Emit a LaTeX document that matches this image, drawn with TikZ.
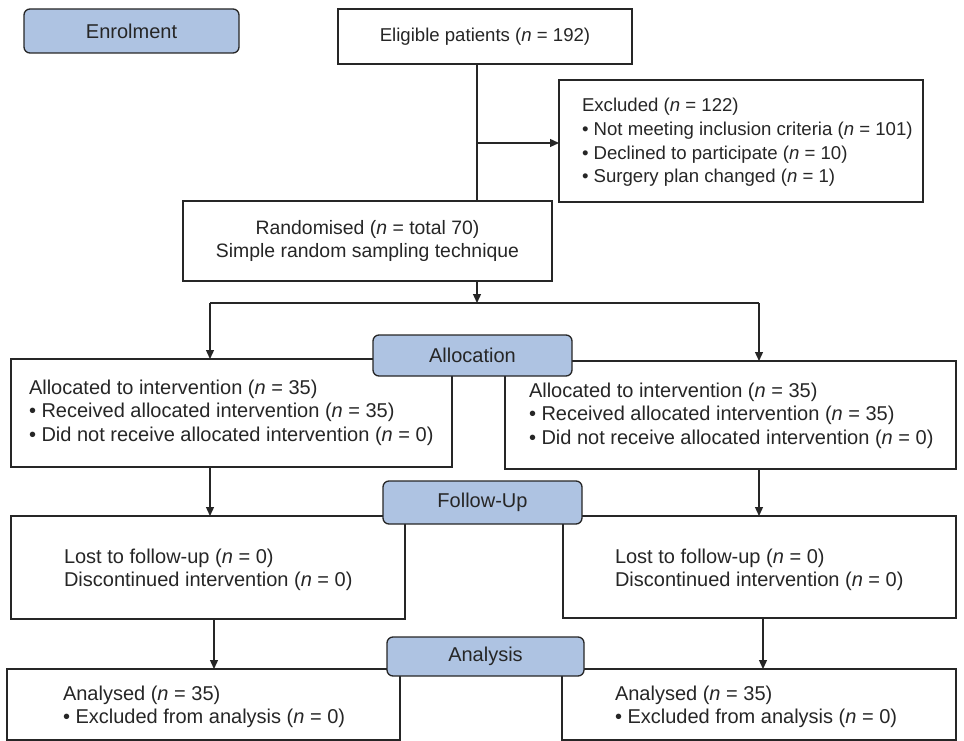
\documentclass[tikz,border=0pt]{standalone}
\usepackage{fontspec}
\setmainfont{Liberation Sans}
\usetikzlibrary{arrows.meta}
\definecolor{phase}{RGB}{174,195,226}
\definecolor{ink}{RGB}{38,38,38}
\begin{document}
\begin{tikzpicture}[x=1pt,y=-1pt,
  fA/.style={font=\fontsize{18.6}{23.8}\selectfont},
  fB/.style={font=\fontsize{19.4}{23.4}\selectfont},
  fC/.style={font=\fontsize{20}{23.8}\selectfont},
  box/.style={draw=ink, line width=1.3pt, rectangle, inner sep=0pt, outer sep=0pt, fill=white, align=center, text=ink},
  phasebox/.style={box, fill=phase, rounded corners=6pt, fC},
  txt/.style={inner sep=0pt, outer sep=0pt, align=left, anchor=base west, text=ink},
  conn/.style={draw=ink, line width=1.3pt},
  arr/.style={conn, -{Triangle[length=9pt,width=8pt]}}]
\useasboundingbox (0,0) rectangle (964,741);

% boxes
\node[box, fA, minimum width=294, minimum height=55] (elig) at (485,36.5) {Eligible patients (\textit{n} = 192)};
\node[box, minimum width=364, minimum height=122] (excl) at (741,141) {};
\node[box, fB, minimum width=369, minimum height=80] (rand) at (367.5,241) {Randomised (\textit{n} = total 70)\\Simple random sampling technique};
\node[box, minimum width=441, minimum height=108] (allocL) at (231.5,413) {};
\node[box, minimum width=451, minimum height=108] (allocR) at (730.5,415) {};
\node[box, minimum width=394, minimum height=103] (followL) at (208,567.5) {};
\node[box, minimum width=393, minimum height=102] (followR) at (759.5,567) {};
\node[box, minimum width=393, minimum height=71] (anaL) at (203.5,704.5) {};
\node[box, minimum width=394, minimum height=71] (anaR) at (759,704.5) {};

% texts (anchor = baseline of the last line)
\node[txt, fA] (excltxt) at (582,182.9) {Excluded (\textit{n} = 122)\\• Not meeting inclusion criteria (\textit{n} = 101)\\• Declined to participate (\textit{n} = 10)\\• Surgery plan changed (\textit{n} = 1)};
\node[txt, fC] (allocLtxt) at (29,441.6) {Allocated to intervention (\textit{n} = 35)\\• Received allocated intervention (\textit{n} = 35)\\• Did not receive allocated intervention (\textit{n} = 0)};
\node[txt, fC] (allocRtxt) at (529,444.6) {Allocated to intervention (\textit{n} = 35)\\• Received allocated intervention (\textit{n} = 35)\\• Did not receive allocated intervention (\textit{n} = 0)};
\node[txt, fC] (followLtxt) at (64,586.8) {Lost to follow-up (\textit{n} = 0)\\Discontinued intervention (\textit{n} = 0)};
\node[txt, fC] (followRtxt) at (615,586.8) {Lost to follow-up (\textit{n} = 0)\\Discontinued intervention (\textit{n} = 0)};
\node[txt, fC] (anaLtxt) at (63,723.8) {Analysed (\textit{n} = 35)\\• Excluded from analysis (\textit{n} = 0)};
\node[txt, fC] (anaRtxt) at (615,723.8) {Analysed (\textit{n} = 35)\\• Excluded from analysis (\textit{n} = 0)};

% phase labels
\node[phasebox, minimum width=215, minimum height=44] (enrol) at (131.5,31) {Enrolment};
\node[phasebox, minimum width=199, minimum height=41] (allocLab) at (472.5,355.5) {Allocation};
\node[phasebox, minimum width=199, minimum height=43] (followLab) at (482.5,502.5) {Follow-Up};
\node[phasebox, minimum width=197, minimum height=39] (anaLab) at (485.5,656.5) {Analysis};

% connectors
\coordinate (spine) at (477,143);
\coordinate (split) at (477,303);
\coordinate (splitL) at (210,303);
\coordinate (splitR) at (759,303);
\draw[conn] (elig.south -| spine) -- (rand.north -| spine);
\draw[arr] (spine) -- (excl.west |- spine);
\draw[arr] (rand.south -| split) -- (split);
\draw[conn] (splitL) -- (splitR);
\draw[arr] (splitL) -- (allocL.north -| splitL);
\draw[arr] (splitR) -- (allocR.north -| splitR);
\coordinate (colL1) at (210,0);
\coordinate (colR1) at (759,0);
\coordinate (colL2) at (214,0);
\coordinate (colR2) at (763,0);
\draw[arr] (allocL.south -| colL1) -- (followL.north -| colL1);
\draw[arr] (allocR.south -| colR1) -- (followR.north -| colR1);
\draw[arr] (followL.south -| colL2) -- (anaL.north -| colL2);
\draw[arr] (followR.south -| colR2) -- (anaR.north -| colR2);
\end{tikzpicture}
\end{document}
